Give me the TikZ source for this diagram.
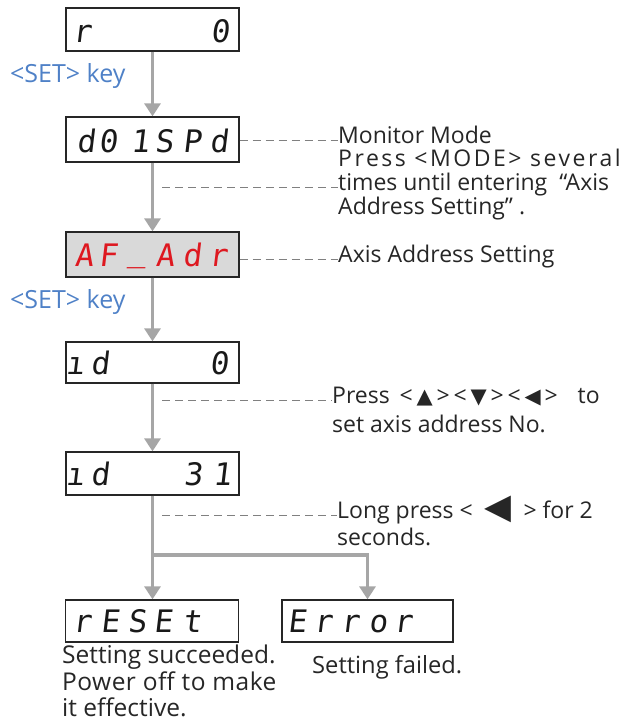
\documentclass[tikz,border=0pt]{standalone}
\usepackage{fontspec}
\setmainfont{Open Sans}
\newfontfamily\segfont[FakeSlant=0.12]{DejaVu Sans Mono}
\newfontfamily\symfont{DejaVu Sans}
\usetikzlibrary{arrows.meta}
\definecolor{arrowgray}{RGB}{166,166,166}
\definecolor{keyblue}{RGB}{79,129,199}
\definecolor{segred}{RGB}{222,24,32}
\definecolor{dispfill}{RGB}{217,217,217}
\definecolor{leadgray}{RGB}{128,128,128}
\tikzset{
  disp/.style={draw=black!85, line width=1.3pt, minimum width=173pt, minimum height=43pt, inner sep=0pt},
  seg/.style={font=\segfont\fontsize{31}{31}\selectfont, anchor=base, inner sep=0pt, text=black!90},
  flow/.style={draw=arrowgray, line width=3.2pt, -{Triangle[width=16pt,length=13pt]}},
  leader/.style={draw=leadgray, line width=0.8pt, dash pattern=on 8pt off 5pt},
  lbl/.style={font=\fontsize{23}{24}\selectfont, anchor=base west, inner sep=0pt, text=black!85},
  bot/.style={lbl, font=\fontsize{24.5}{27}\selectfont},
  key/.style={lbl, font=\fontsize{25}{27}\selectfont, text=keyblue},
}
\newcommand\smtri[1]{{\symfont\fontsize{21}{21}\selectfont #1}}
\begin{document}
\begin{tikzpicture}[x=1pt,y=-1pt]
\useasboundingbox (0,0) rectangle (630,721);
% display boxes
\node[disp] (b1) at (152.5,29.5) {};
\node[disp, minimum height=45pt] (b2) at (152.5,139.5) {};
\node[disp, minimum height=45pt, fill=dispfill] (b3) at (152.5,254.5) {};
\node[disp, minimum height=41pt] (b4) at (152.5,362.5) {};
\node[disp] (b5) at (152.5,473.5) {};
\node[disp, minimum height=42pt] (b6) at (152,621) {};
\node[disp, minimum height=42pt, minimum width=171pt] (b7) at (367.5,621) {};
% display characters
\foreach \c/\x [count=\i] in {r/82,0/220} \node[seg] (b1c\i) at (\x,42) {\c};
\foreach \c/\x [count=\i] in {d/86,0/108,1/140,S/164,P/192,d/219} \node[seg] (b2c\i) at (\x,152) {\c};
\foreach \c/\x [count=\i] in {A/84,F/108,A/165,d/192,r/218} \node[seg, text=segred] (b3c\i) at (\x,266.5) {\c};
\node[seg, text=segred] (b3u) at (137,261) {\_};
\foreach \c/\x [count=\i] in {ı/75,d/100,0/219} \node[seg] (b4c\i) at (\x,374) {\c};
\foreach \c/\x [count=\i] in {ı/75,d/100,3/193,1/222} \node[seg] (b5c\i) at (\x,485) {\c};
\foreach \c/\x [count=\i] in {r/82,E/110,S/137,E/163,t/192} \node[seg] (b6c\i) at (\x,632.5) {\c};
\foreach \c/\x [count=\i] in {E/297,r/323,r/350,o/378,r/403} \node[seg] (b7c\i) at (\x,632.5) {\c};
% flow arrows
\draw[flow] (b1.south) -- (b2.north);
\draw[flow] (b2.south) -- (b3.north);
\draw[flow] (b3.south) -- (b4.north);
\draw[flow] (b4.south) -- (b5.north);
\draw[flow] (b5.south) -- (b6.north -| b5.south);
\coordinate (split) at (152.5,555);
\draw[flow] (split) -| (b7.north);
% key labels
\node[key] (k1) at (10,82) {<SET> key};
\node[key] (k2) at (10,308) {<SET> key};
% annotation texts
\node[lbl] (t1) at (338,143) {Monitor Mode};
\node[lbl] (t2) at (338,166) {\addfontfeatures{LetterSpace=11}Press <MODE> several};
\node[lbl] (t3) at (338,190) {times until entering \ “Axis};
\node[lbl] (t4) at (338,214) {Address Setting” .};
\node[lbl] (t5) at (338,262) {Axis Address Setting};
\node[lbl] (t6) at (332,403) {Press\, <\,\smtri{▲}\,>\,<\,\smtri{▼}\,>\,<\,\smtri{◀}\,>\hspace{20pt}to};
\node[lbl] (t7) at (332,432) {set axis address No.};
\node[lbl] (t8) at (337,518) {Long press <\ \ {\symfont\fontsize{35}{30}\selectfont ◀}\ \ > for 2};
\node[lbl] (t9) at (337,545) {seconds.};
\node[bot] (s1) at (62,663) {Setting succeeded.};
\node[bot] (s2) at (62,690) {\addfontfeatures{LetterSpace=2}Power off to make};
\node[bot, text depth=0pt] (s3) at (62,716) {it effective.};
\node[lbl, font=\fontsize{23.7}{27}\selectfont] (f1) at (312,673) {Setting failed.};
% leaders
\coordinate (lx) at (162,0);
\draw[leader] (b2.east |- t1.mid west) -- (t1.mid west);
\draw[leader] (lx |- t3.mid west) -- (t3.mid west);
\draw[leader] (b3.east |- t5.mid west) -- (t5.mid west);
\draw[leader] (lx |- t6.mid west) -- (t6.mid west);
\draw[leader] (lx |- t8.mid west) -- (t8.mid west);
\end{tikzpicture}
\end{document}
